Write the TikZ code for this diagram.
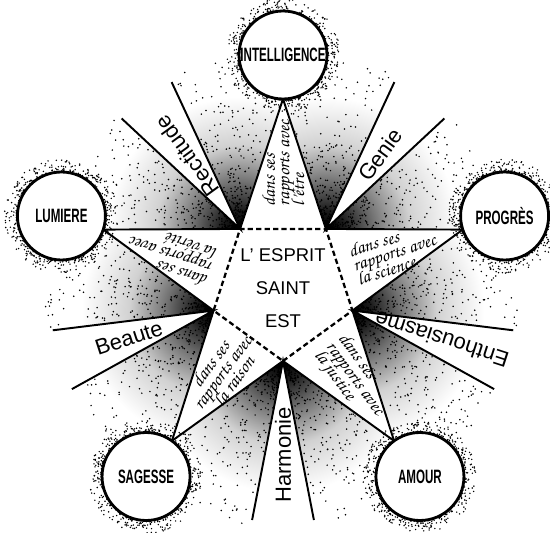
\documentclass[tikz,border=0pt]{standalone}
\usepackage[T1]{fontenc}
\usepackage{fontspec}
\setmainfont{Liberation Sans}
\newfontfamily\orbfont[FakeStretch=0.6]{Liberation Sans}
\usetikzlibrary{calc}
\newcommand{\handfont}{\fontencoding{T1}\fontfamily{pzc}\fontseries{mb}\fontshape{it}\selectfont\lineskiplimit=-20pt}
\newcommand{\rapports}[1]{dans ses\\rapports avec\\#1}
\pgfdeclareradialshading{stipple}{\pgfpoint{0bp}{0bp}}{%
  color(0bp)=(black); color(3bp)=(black!90); color(8bp)=(black!55);
  color(14bp)=(black!18); color(22bp)=(white); color(50bp)=(white)}

\begin{document}
\begin{tikzpicture}[x=0.02cm,y=0.02cm,
  orb/.style={circle,draw,line width=1.6pt,fill=white,minimum size=1.76cm,
              inner sep=0pt,font=\orbfont\bfseries\fontsize{11}{12}\selectfont},
  side/.style={line width=1.1pt},
  dashedge/.style={line width=1.3pt,dash pattern=on 3pt off 1.8pt},
  raytext/.style={inner sep=0pt,font=\fontsize{12.5}{14}\selectfont},
  handtext/.style={inner sep=0pt,align=left,font=\fontsize{10.5}{8.3}\handfont},
  centretext/.style={inner sep=0pt,align=center,font=\fontsize{10.5}{18.8}\selectfont}
]
\useasboundingbox (-283,-245) rectangle (267,288);
\pgfmathsetseed{31}

% pentagon corners, star tips, ray ends
\foreach \vi in {0,...,4}{
  \coordinate (v\vi) at (-90+72*\vi:73);
  \coordinate (a\vi) at (-54+72*\vi:189);
  \coordinate (ra\vi) at ([shift={(v\vi)}]-101+72*\vi:162);
  \coordinate (rb\vi) at ([shift={(v\vi)}]-79+72*\vi:162);
}

% shadows between the rays and the star points
\foreach \vi in {0,...,4}{
  \pgfmathtruncatemacro\prev{mod(\vi+4,5)}
  \begin{scope}
    \clip (v\vi) -- ($(v\vi)!1.5!(a\vi)$) -- ($(v\vi)!1.3!(rb\vi)$) -- cycle;
    \shade[shading=stipple] (v\vi) circle (150);
  \end{scope}
  \begin{scope}
    \clip (v\vi) -- ($(v\vi)!1.5!(a\prev)$) -- ($(v\vi)!1.3!(ra\vi)$) -- cycle;
    \shade[shading=stipple] (v\vi) circle (150);
  \end{scope}
}
\foreach \vi in {0,...,4}
  \foreach \sgn in {-1,1}
    \foreach \i in {1,...,250}{
      \pgfmathsetmacro\dang{-90+72*\vi+\sgn*(12+42*rnd)}
      \pgfmathsetmacro\drad{3+165*pow(rnd,1.6)}
      \fill ([shift={(v\vi)}]\dang:\drad) circle (0.85);
    }
% halos
\foreach \tip in {-54,18,90,162,234}
  \foreach \i in {1,...,380}{
    \pgfmathsetmacro\dang{360*rnd}
    \pgfmathsetmacro\drad{45+12*pow(rnd,1.7)}
    \fill ([shift={(\tip:233)}]\dang:\drad) circle (0.8);
  }

% star and rays
\foreach \vi in {0,...,4}{
  \pgfmathtruncatemacro\prev{mod(\vi+4,5)}
  \draw[side] (a\prev) -- (v\vi) -- (a\vi);
  \draw[side] (ra\vi) -- (v\vi) -- (rb\vi);
}
\draw[dashedge] (v0) -- (v1) -- (v2) -- (v3) -- (v4) -- cycle;

\node[orb] (amour)   at (-54:233) {AMOUR};
\node[orb] (progres) at (18:233)  {PROGRÈS};
\node[orb] (intel)   at (90:233)  {INTELLIGENCE};
\node[orb] (lumiere) at (162:233) {LUMIERE};
\node[orb] (sagesse) at (234:233) {SAGESSE};

\node[centretext] (esprit) at (0,0) {L' ESPRIT\\SAINT\\EST};

\node[handtext,rotate=90]  (etre)    at (90:125)  {\rapports{l'\^etre}};
\node[handtext,rotate=18]  (science) at (18:117)  {\rapports{la science}};
\node[handtext,rotate=162] (verite)  at (164:117) {\rapports{la v\'erit\'e}};
\node[handtext,rotate=54,align=center] (raison) at (234:104) {\rapports{la raison}};
\node[handtext,rotate=-54] (justice) at (-52:116) {\rapports{la justice}};

\node[raytext,rotate=126] (rectitude) at (126:163) {Rectitude};
\node[raytext,rotate=54]  (genie)     at (54:165)  {Genie};
\node[raytext,rotate=162] (enthous)   at (-18:167) {Enthousiasme};
\node[raytext,rotate=90]  (harmonie)  at (-90:167) {Harmonie};
\node[raytext,rotate=18]  (beaute)    at (198:162) {Beaute};
\end{tikzpicture}
\end{document}
